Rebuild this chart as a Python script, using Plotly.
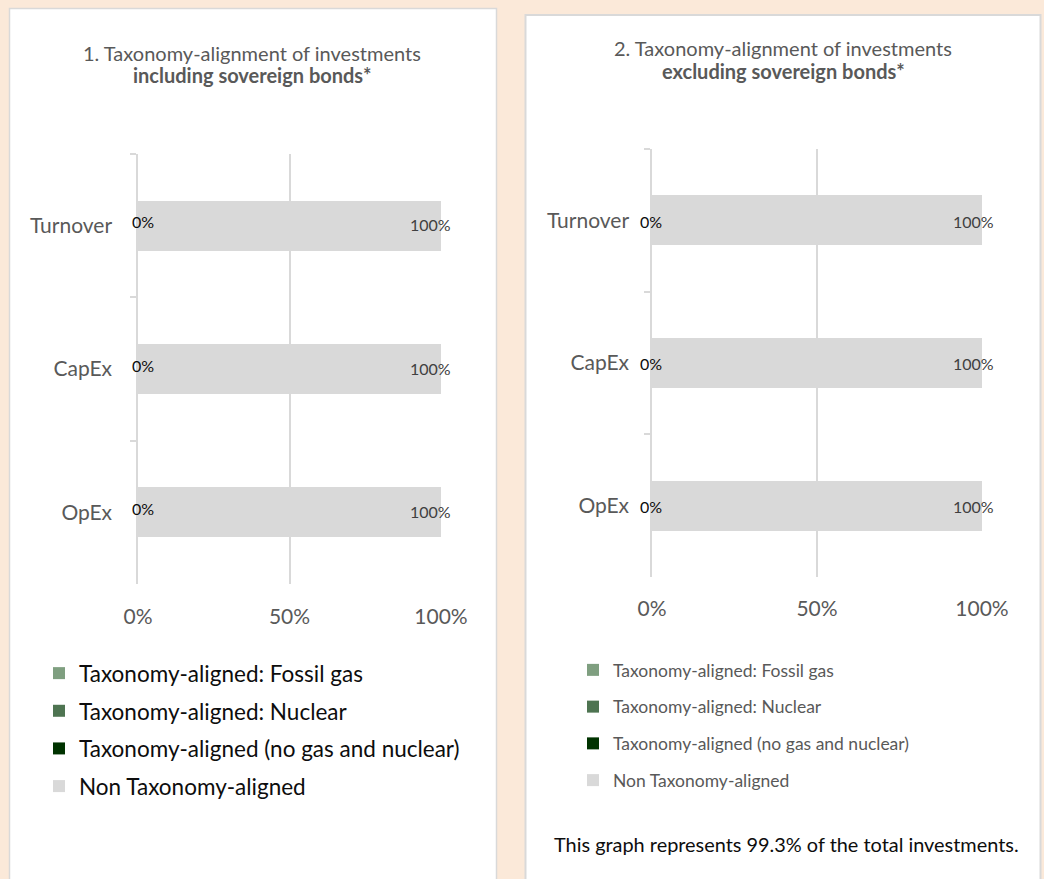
import plotly.graph_objects as go

W, H = 1044, 879
FONT = "Lato"

# ---------------- data ----------------
categories = ["Turnover", "CapEx", "OpEx"]
series_names = [
    "Taxonomy-aligned: Fossil gas",
    "Taxonomy-aligned: Nuclear",
    "Taxonomy-aligned (no gas and nuclear)",
    "Non Taxonomy-aligned",
]
series_colors = ["#7F9F80", "#4E7451", "#003300", "#D9D9D9"]

# chart 1: including sovereign bonds
incl_fossil_gas = [0, 0, 0]
incl_nuclear = [0, 0, 0]
incl_aligned_other = [0, 0, 0]
incl_non_aligned = [100, 100, 100]

# chart 2: excluding sovereign bonds
excl_fossil_gas = [0, 0, 0]
excl_nuclear = [0, 0, 0]
excl_aligned_other = [0, 0, 0]
excl_non_aligned = [100, 100, 100]

x_ticks = [0, 50, 100]
x_tick_labels = ["0%", "50%", "100%"]

title1_line1 = "1. Taxonomy-alignment of investments"
title1_line2 = "including sovereign bonds*"
title2_line1 = "2. Taxonomy-alignment of investments"
title2_line2 = "excluding sovereign bonds*"
footnote = "This graph represents 99.3% of the total investments."


def px(x):
    return x / W


def py(y):
    return 1 - y / H


fig = go.Figure()

charts = [
    dict(vals=[incl_fossil_gas, incl_nuclear, incl_aligned_other, incl_non_aligned],
         xa="x", ya="y", legend="legend"),
    dict(vals=[excl_fossil_gas, excl_nuclear, excl_aligned_other, excl_non_aligned],
         xa="x2", ya="y2", legend="legend2"),
]

for ci, ch in enumerate(charts):
    for si, (name, col, vals) in enumerate(zip(series_names, series_colors, ch["vals"])):
        fig.add_trace(go.Bar(
            y=categories, x=vals, orientation="h", name=name,
            marker=dict(color=col, line=dict(width=0)),
            xaxis=ch["xa"], yaxis=ch["ya"], legend=ch["legend"],
            legendgroup=f"c{ci}s{si}", hoverinfo="skip",
        ))

# data labels
label_cfg = [
    dict(vals=charts[0]["vals"], xref="x", yref="y", l_shift=-8, r_shift=12, l_y=4, r_y=1),
    dict(vals=charts[1]["vals"], xref="x2", yref="y2", l_shift=-14, r_shift=14, l_y=-1, r_y=-1),
]
for cfg in label_cfg:
    v = cfg["vals"]
    for i, cat in enumerate(categories):
        aligned = v[0][i] + v[1][i] + v[2][i]
        total = aligned + v[3][i]
        fig.add_annotation(x=aligned, y=cat, xref=cfg["xref"], yref=cfg["yref"],
                           text=f"{aligned:.0f}%", showarrow=False, xanchor="left",
                           xshift=cfg["l_shift"], yshift=cfg["l_y"],
                           font=dict(family=FONT, size=16, color="#0D0D0D"))
        fig.add_annotation(x=total, y=cat, xref=cfg["xref"], yref=cfg["yref"],
                           text=f"{v[3][i]:.0f}%", showarrow=False, xanchor="right",
                           xshift=cfg["r_shift"], yshift=cfg["r_y"],
                           font=dict(family=FONT, size=16, color="#404040"))

grid = "#D9D9D9"
axis_common_x = dict(range=[0, 100], tickvals=x_ticks, ticktext=x_tick_labels, showgrid=True,
                     gridcolor=grid, gridwidth=1.5, zeroline=False, showline=False,
                     ticks="", tickfont=dict(family=FONT, size=21, color="#595959"),
                     fixedrange=True, automargin=False)
axis_common_y = dict(autorange="reversed", showline=True, linecolor=grid, linewidth=1.5,
                     ticks="outside", tickson="boundaries", ticklen=6, tickcolor=grid,
                     tickwidth=1.5, showgrid=False, zeroline=False,
                     tickfont=dict(family=FONT, size=21, color="#595959"), fixedrange=True,
                     automargin=False)

fig.update_layout(
    width=W, height=H, autosize=False,
    margin=dict(l=0, r=0, t=0, b=0, pad=0, autoexpand=False),
    paper_bgcolor="#FBE9D9",
    plot_bgcolor="rgba(0,0,0,0)",
    barmode="stack",
    bargap=0.65,
    showlegend=True,
    xaxis=dict(domain=[px(138), px(441)], anchor="y", ticklabelstandoff=18, **axis_common_x),
    yaxis=dict(domain=[py(584), py(154)], anchor="x", ticklabelstandoff=20, **axis_common_y),
    xaxis2=dict(domain=[px(652), px(982)], anchor="y2", ticklabelstandoff=17, **axis_common_x),
    yaxis2=dict(domain=[py(577), py(149)], anchor="x2", ticklabelstandoff=17, **axis_common_y),
    legend=dict(x=px(39), y=py(652), xanchor="left", yanchor="top", orientation="v",
                bgcolor="rgba(0,0,0,0)", tracegroupgap=5.4,
                font=dict(family=FONT, size=22.5, color="#0D0D0D")),
    legend2=dict(x=px(573), y=py(652), xanchor="left", yanchor="top", orientation="v",
                 bgcolor="rgba(0,0,0,0)", tracegroupgap=11,
                 font=dict(family=FONT, size=17.5, color="#595959")),
)

# panels
fig.add_shape(type="rect", xref="paper", yref="paper", x0=px(9.5), x1=px(496.5),
              y0=py(900), y1=py(8.5), fillcolor="white",
              line=dict(color="#D9D9D9", width=1.5), layer="below")
fig.add_shape(type="rect", xref="paper", yref="paper", x0=px(525.5), x1=px(1040.5),
              y0=py(900), y1=py(15), fillcolor="white",
              line=dict(color="#D9D9D9", width=2), layer="below")

# titles
for xc, l1, l2, y1, y2 in [(252, title1_line1, title1_line2, 53, 75),
                           (783, title2_line1, title2_line2, 48, 71)]:
    fig.add_annotation(x=px(xc), y=py(y1), xref="paper", yref="paper", text=l1,
                       showarrow=False, xanchor="center", yanchor="middle",
                       font=dict(family=FONT, size=20, color="#595959"))
    fig.add_annotation(x=px(xc), y=py(y2), xref="paper", yref="paper", text=f"<b>{l2}</b>",
                       showarrow=False, xanchor="center", yanchor="middle",
                       font=dict(family=FONT, size=20, color="#595959"))

fig.add_annotation(x=px(786), y=py(844), xref="paper", yref="paper", text=footnote,
                   showarrow=False, xanchor="center", yanchor="middle",
                   font=dict(family=FONT, size=19.9, color="#0D0D0D"))

fig.write_html(
    "out.html",
    config={"responsive": False},
    post_script="document.documentElement.style.overflow='hidden';"
                "document.body.style.overflow='hidden';document.body.style.margin='0';",
)
